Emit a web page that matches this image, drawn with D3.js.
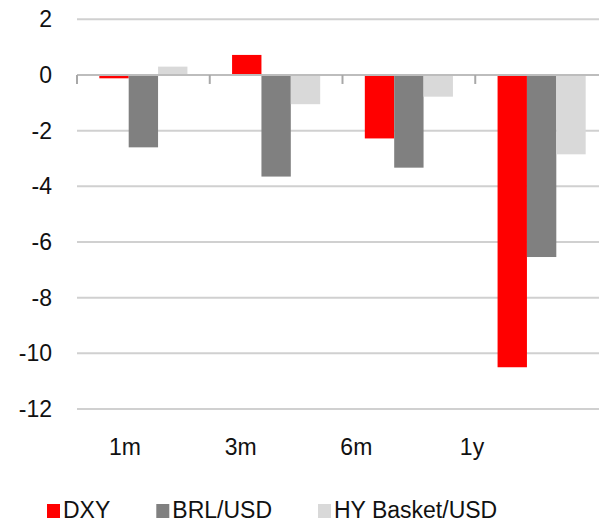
<!DOCTYPE html>
<html>
<head>
<meta charset="utf-8">
<script src="https://cdn.jsdelivr.net/npm/d3@7"></script>
<style>
  body { margin: 0; background: #fff; overflow: hidden; }
  svg { display: block; font-family: "Liberation Sans", Arial, sans-serif; }
</style>
</head>
<body>
<svg id="chart" width="599" height="525"></svg>
<script>
// horizons and series
const categories = ["1m", "3m", "6m", "1y"];
const seriesNames = ["DXY", "BRL/USD", "HY Basket/USD"];
const dxy = [-0.12, 0.72, -2.28, -10.5];
const brl = [-2.6, -3.65, -3.33, -6.54];
const hy = [0.3, -1.05, -0.78, -2.85];
const yTicks = [2, 0, -2, -4, -6, -8, -10, -12];

const colors = ["#ff0000", "#808080", "#d9d9d9"];
const values = [dxy, brl, hy];

const svg = d3.select("#chart");

const plotLeft = 77,
  plotW = 531, // band area runs past the right edge, as in the original crop
  plotTop = 19.3,
  plotBottom = 409;

const x0 = d3.scaleBand().domain(categories).range([plotLeft, plotLeft + plotW]);
const x1 = d3
  .scaleBand()
  .domain(seriesNames)
  .range([0, x0.bandwidth()])
  .paddingInner(0)
  .paddingOuter(0.76);
const y = d3.scaleLinear().domain([-12, 2]).range([plotBottom, plotTop]);

// labels sit slightly left of the band centres in the reference
const xLabel = d3.scalePoint().domain(categories).range([125, 472]);

//------- GRID -------
svg
  .append("g")
  .selectAll("line")
  .data(yTicks.filter((d) => d !== 0))
  .enter()
  .append("line")
  .attr("x1", plotLeft)
  .attr("x2", 599)
  .attr("y1", (d) => y(d))
  .attr("y2", (d) => y(d))
  .attr("stroke", "#d0d0d0")
  .attr("stroke-width", 2);

svg
  .append("g")
  .selectAll("text")
  .data(yTicks)
  .enter()
  .append("text")
  .attr("x", 52)
  .attr("y", (d) => y(d))
  .attr("dy", "0.35em")
  .attr("text-anchor", "end")
  .attr("font-size", 23)
  .attr("fill", "#111")
  .text((d) => d);

//------- BARS -------
const groups = svg
  .append("g")
  .selectAll("g")
  .data(categories)
  .enter()
  .append("g")
  .attr("transform", (d) => "translate(" + x0(d) + ",0)");

groups
  .selectAll("rect")
  .data((d, i) => seriesNames.map((s, j) => ({ s: s, v: values[j][i], c: colors[j] })))
  .enter()
  .append("rect")
  .attr("x", (d) => x1(d.s))
  .attr("width", x1.bandwidth())
  .attr("y", (d) => y(Math.max(0, d.v)))
  .attr("height", (d) => Math.abs(y(d.v) - y(0)))
  .attr("fill", (d) => d.c);

//------- ZERO AXIS -------
svg
  .append("line")
  .attr("x1", plotLeft)
  .attr("x2", 599)
  .attr("y1", y(0))
  .attr("y2", y(0))
  .attr("stroke", "#bdbdbd")
  .attr("stroke-width", 2);

svg
  .append("g")
  .selectAll("line")
  .data(categories)
  .enter()
  .append("line")
  .attr("x1", (d) => x0(d))
  .attr("x2", (d) => x0(d))
  .attr("y1", y(0))
  .attr("y2", y(0) + 9)
  .attr("stroke", "#a8a8a8")
  .attr("stroke-width", 2);

svg
  .append("g")
  .selectAll("text")
  .data(categories)
  .enter()
  .append("text")
  .attr("x", (d) => xLabel(d))
  .attr("y", 455)
  .attr("text-anchor", "middle")
  .attr("font-size", 23)
  .attr("fill", "#111")
  .text((d) => d);

//------- LEGEND -------
let lx = 47;
seriesNames.forEach(function (name, i) {
  const g = svg.append("g").attr("transform", "translate(" + lx + ",0)");
  g.append("rect")
    .attr("x", 0)
    .attr("y", 504)
    .attr("width", 13)
    .attr("height", 14)
    .attr("fill", colors[i]);
  const t = g
    .append("text")
    .attr("x", 16)
    .attr("y", 518)
    .attr("font-size", 23)
    .attr("fill", "#111")
    .text(name);
  lx += 16 + t.node().getComputedTextLength() + 46;
});
</script>
</body>
</html>
